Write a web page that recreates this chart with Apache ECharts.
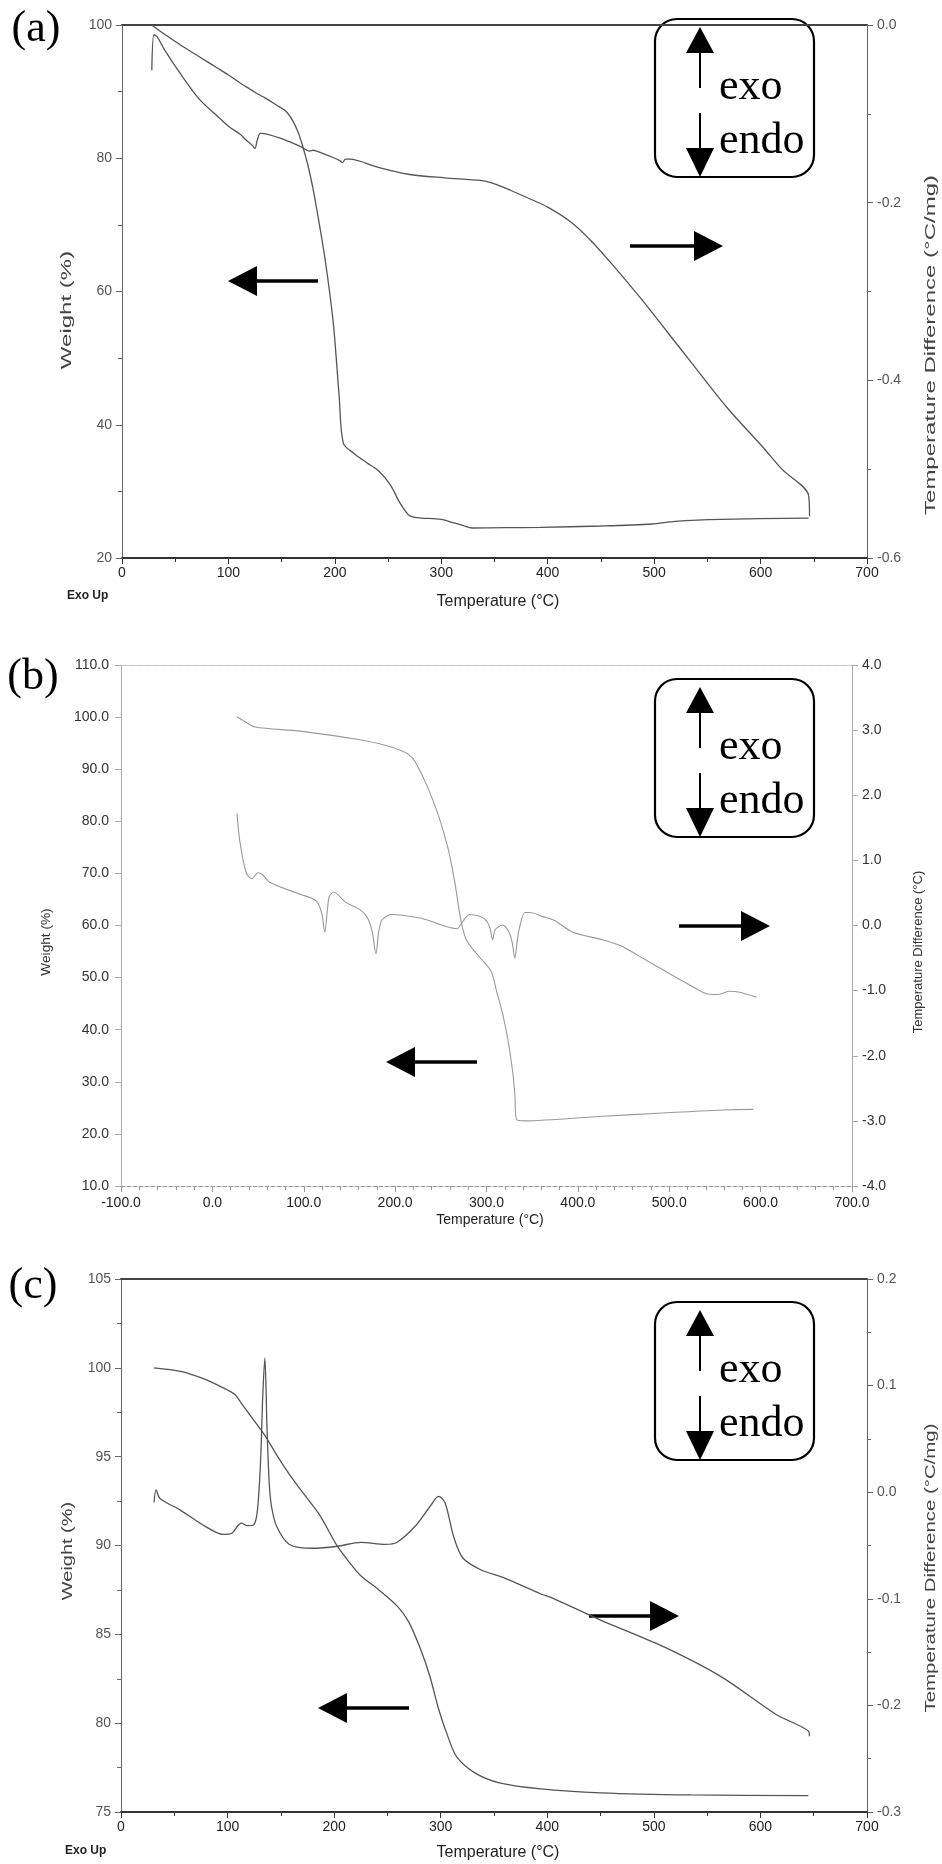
<!DOCTYPE html>
<html>
<head>
<meta charset="utf-8">
<script src="https://cdn.jsdelivr.net/npm/echarts@6.0.0/dist/echarts.min.js"></script>
<style>
html,body{margin:0;padding:0;background:#fff;}
#chart{width:942px;height:1864px;}
</style>
</head>
<body>
<div id="chart"></div>
<script>
// ---------------- DATA ----------------
// Panel (a)
const aTgaT = [28,40,55,73,90,100,111,120,125,128,134,145,155,165,173,179,185,190,195,199,204,208,218,230,241,252,261,269,275,281,300,309,320,329,360,393,450,498,520,563,645];
const aTgaW = [100,98.6,97.0,95.2,93.5,92.5,91.3,90.4,89.9,89.6,89.1,88.0,86.9,84.1,80.0,75.8,70.5,65.7,60.0,54.5,44.4,37.2,35.7,34.3,33.1,31.0,28.3,26.5,26.1,26.0,25.8,25.4,24.9,24.5,24.55,24.6,24.8,25.1,25.5,25.8,26.0];
const aDscT = [28,30,33,40,55,73,90,100,111,117,122,125,127,130,137,150,168,176,180,183,200,205,207,210,214,240,269,303,337,348,365,382,400,422,440,461,489,512,535,568,602,620,645,646];
const aDscV = [-0.051,-0.011,-0.013,-0.028,-0.055,-0.084,-0.103,-0.114,-0.123,-0.130,-0.135,-0.139,-0.130,-0.122,-0.123,-0.128,-0.137,-0.142,-0.141,-0.142,-0.150,-0.153,-0.155,-0.151,-0.151,-0.160,-0.168,-0.172,-0.175,-0.178,-0.186,-0.195,-0.205,-0.222,-0.242,-0.270,-0.310,-0.345,-0.380,-0.430,-0.475,-0.500,-0.529,-0.553];
// Panel (b)
const bTgaT = [27,35,47,96,163,189,205,215,222,235,248,258,265,272,278,291,305,311,318,324,329,331,333,341,427,493,559,592];
const bTgaW = [100,99.2,98.1,97.3,95.6,94.6,93.7,92.8,91.4,86.8,80.8,74.7,68.6,61.0,57.2,54.2,51.2,47.4,42.8,37.5,31.4,27.6,22.7,22.5,23.4,24.0,24.6,24.7];
const bDscT = [27,30,37,43.5,50,55,63,96,113,119.5,123,126,128,133,146,162.5,170,175,179,182,185.6,195.5,228.6,268,272,275,281.5,294.7,301,304,306.6,309,311,318,324.5,328,331,333.5,336,342,347.6,361,374,394,427,447,467,493,519.5,539,552.6,565.8,575.7,595.6];
const bDscV = [1.72,1.30,0.81,0.72,0.81,0.78,0.66,0.48,0.385,0.20,-0.10,0.25,0.45,0.51,0.355,0.233,0.11,-0.10,-0.435,-0.10,0.08,0.17,0.11,-0.05,0.02,0.08,0.17,0.13,0.05,-0.05,-0.22,-0.08,-0.04,0.008,-0.10,-0.25,-0.50,-0.25,-0.04,0.20,0.20,0.14,0.08,-0.10,-0.22,-0.31,-0.47,-0.68,-0.89,-1.04,-1.06,-1.01,-1.02,-1.10];
// Panel (c)
const cTgaT = [31,56,79,100,107,113,124,135,146,158,169,186,203,215,225,242,259,270,281.5,290,298,307,315,332,355,394,450,535,645];
const cTgaW = [100.0,99.8,99.35,98.75,98.5,98.0,97.1,96.2,95.1,94.0,93.1,91.75,89.96,89.0,88.3,87.5,86.6,85.7,84.1,82.6,80.8,79.2,78.1,77.2,76.64,76.3,76.08,75.96,75.92];
const cDscT = [31,33,36.6,56,79,96,104,110,113,118,124,128,131,133,135,137,139,141,146,158,180,203,225,248,259,276,290,298,304,312.5,321,338,360,394,405,450,507,563,614,645,646];
const cDscV = [-0.0097,0.0022,-0.006,-0.017,-0.032,-0.0396,-0.0385,-0.031,-0.029,-0.0313,-0.031,-0.017,0.03,0.09,0.126,0.06,0.01,-0.012,-0.032,-0.049,-0.0526,-0.0507,-0.047,-0.049,-0.047,-0.032,-0.0134,-0.004,-0.0097,-0.043,-0.062,-0.073,-0.0806,-0.0955,-0.0993,-0.120,-0.144,-0.173,-0.208,-0.224,-0.229];

// Axis ranges / ticks
const aX = {min:0, max:700, interval:100};
const aYL = {min:20, max:100, interval:20};
const aYR = {min:-0.6, max:0, interval:0.2};
const bX = {min:-100, max:700, interval:100};
const bYL = {min:10, max:110, interval:10};
const bYR = {min:-4, max:4, interval:1};
const cX = {min:0, max:700, interval:100};
const cYL = {min:75, max:105, interval:5};
const cYR = {min:-0.3, max:0.2, interval:0.1};

// Texts
const panelLabels = ['(a)','(b)','(c)'];
const weightTitle = 'Weight (%)';
const tempTitle = 'Temperature (°C)';
const diffTitleMg = 'Temperature Difference (°C/mg)';
const diffTitle = 'Temperature Difference (°C)';
const exoUp = 'Exo Up';

// ---------------- CHART ----------------
const FONT = "'Liberation Sans', Arial, sans-serif";
const SERIF = "'Liberation Serif', 'Times New Roman', serif";
const pts = (xs, ys) => xs.map((x, i) => [x, ys[i]]);
const f0 = v => String(Math.round(v));
const f1 = v => (Math.abs(v) < 1e-9 ? 0 : v).toFixed(1);

function xAx(gi, r, fmt, st) {
  return {
    type:'value', gridIndex:gi, position:'bottom', min:r.min, max:r.max, interval:r.interval,
    axisLine:{show:true, onZero:false, lineStyle:{color:st.line, width:st.w, type:st.type||'solid'}},
    axisTick:{show:true, length:6, lineStyle:{color:st.line, width:1}},
    minorTick:{show:true, splitNumber:st.minor, length:4, lineStyle:{color:st.line, width:1}},
    axisLabel:{fontFamily:FONT, fontSize:st.fs, color:st.label, margin:st.margin, formatter:fmt},
    splitLine:{show:false}
  };
}
function xTop(gi, r, st) {
  return {
    type:'value', gridIndex:gi, position:'top', min:r.min, max:r.max,
    axisLine:{show:true, onZero:false, lineStyle:{color:st.line, width:st.w, type:st.type||'solid'}},
    axisTick:{show:false}, axisLabel:{show:false}, splitLine:{show:false}
  };
}
function yAx(gi, pos, r, fmt, st) {
  return {
    type:'value', gridIndex:gi, position:pos, min:r.min, max:r.max, interval:r.interval,
    axisLine:{show:true, onZero:false, lineStyle:{color:st.line, width:st.w, type:st.type||'solid'}},
    axisTick:{show:true, length:6, lineStyle:{color:st.line, width:1}},
    minorTick:{show:st.minor>0, splitNumber:st.minor||2, length:4, lineStyle:{color:st.line, width:1}},
    axisLabel:{fontFamily:FONT, fontSize:st.fs, color:st.label, margin:st.margin, formatter:fmt},
    splitLine:{show:false}
  };
}
function line(xi, yi, data, color, width) {
  return {
    type:'line', xAxisIndex:xi, yAxisIndex:yi, data:data, symbol:'none', showSymbol:false,
    smooth:0.3, silent:true,
    lineStyle:{color:color, width:width}
  };
}

// graphics helpers
function arrowRight(x1, x2, y) {
  return [
    {type:'rect', shape:{x:x1, y:y-1.8, width:x2-29-x1, height:3.6}, style:{fill:'#000'}},
    {type:'polygon', shape:{points:[[x2-29, y-15],[x2, y],[x2-29, y+15]]}, style:{fill:'#000'}}
  ];
}
function arrowLeft(x1, x2, y) {
  return [
    {type:'rect', shape:{x:x1+29, y:y-1.8, width:x2-x1-29, height:3.6}, style:{fill:'#000'}},
    {type:'polygon', shape:{points:[[x1+29, y-15],[x1, y],[x1+29, y+15]]}, style:{fill:'#000'}}
  ];
}
function exoBox(top) {
  const L = 655, W = 159, H = 158, ax = 700;
  return [
    {type:'rect', shape:{x:L, y:top, width:W, height:H, r:22}, style:{fill:'#fff', stroke:'#000', lineWidth:2.2}},
    {type:'polygon', shape:{points:[[ax, top+8],[ax-14, top+34],[ax+14, top+34]]}, style:{fill:'#000'}},
    {type:'line', shape:{x1:ax, y1:top+34, x2:ax, y2:top+69}, style:{stroke:'#000', lineWidth:2}},
    {type:'line', shape:{x1:ax, y1:top+94, x2:ax, y2:top+130}, style:{stroke:'#000', lineWidth:2}},
    {type:'polygon', shape:{points:[[ax-14, top+129],[ax+14, top+129],[ax, top+H]]}, style:{fill:'#000'}},
    {type:'text', x:719, y:top+68, style:{text:'exo', font:'44px '+SERIF, fill:'#000', align:'left', verticalAlign:'middle'}},
    {type:'text', x:719, y:top+122, style:{text:'endo', font:'44px '+SERIF, fill:'#000', align:'left', verticalAlign:'middle'}}
  ];
}
function vText(x, y, text, size, sc, color) {
  return {type:'text', x:x, y:y, rotation:Math.PI/2, scaleX:sc,
    style:{text:text, font:size+'px '+FONT, fill:color, align:'center', verticalAlign:'middle'}};
}
function hText(x, y, text, font, color, align) {
  return {type:'text', x:x, y:y, style:{text:text, font:font, fill:color, align:align||'center', verticalAlign:'middle'}};
}

const stA = {
  bottom:{line:'#333', w:2, minor:2, fs:14, label:'#222', margin:8},
  top:{line:'#444', w:2},
  left:{line:'#666', w:1, minor:2, fs:14, label:'#555', margin:10},
  right:{line:'#666', w:1, minor:2, fs:14, label:'#555', margin:10}
};
const stB = {
  bottom:{line:'#999', w:1, type:'dashed', minor:5, fs:14, label:'#222', margin:10},
  top:{line:'#bbb', w:1, type:'dotted'},
  left:{line:'#aaa', w:1, minor:0, fs:14, label:'#333', margin:12},
  right:{line:'#aaa', w:1, minor:0, fs:14, label:'#333', margin:10}
};

const graphics = [].concat(
  [hText(36, 29, panelLabels[0], '44px '+SERIF, '#000'),
   hText(33, 677, panelLabels[1], '44px '+SERIF, '#000'),
   hText(33, 1286, panelLabels[2], '44px '+SERIF, '#000')],
  [vText(67, 310, weightTitle, 15, 1.6, '#444'),
   vText(931, 345, diffTitleMg, 15, 1.6, '#444'),
   hText(498, 602, tempTitle, '16px '+FONT, '#222'),
   hText(67, 596, exoUp, 'bold 12px '+FONT, '#222', 'left')],
  [vText(46, 942, weightTitle, 13, 1.05, '#333'),
   vText(918, 952, diffTitle, 13, 1.0, '#333'),
   hText(490, 1220, tempTitle, '14px '+FONT, '#222')],
  [vText(68, 1551, weightTitle, 15, 1.33, '#444'),
   vText(931, 1568, diffTitleMg, 15, 1.36, '#444'),
   hText(498, 1853, tempTitle, '16px '+FONT, '#222'),
   hText(65, 1851, exoUp, 'bold 12px '+FONT, '#222', 'left')],
  exoBox(19), exoBox(679), exoBox(1302),
  arrowRight(630, 723, 246), arrowLeft(228, 318, 281),
  arrowRight(679, 770, 926), arrowLeft(386, 477, 1062),
  arrowRight(589, 679, 1616), arrowLeft(318, 409, 1708)
);

const option = {
  animation:false,
  backgroundColor:'#ffffff',
  grid:[
    {left:122, top:25, width:745, height:533},
    {left:121, top:665, width:731, height:521},
    {left:121, top:1279, width:746, height:533}
  ],
  xAxis:[
    xAx(0, aX, f0, stA.bottom), xTop(0, aX, stA.top),
    xAx(1, bX, f1, stB.bottom), xTop(1, bX, stB.top),
    xAx(2, cX, f0, stA.bottom), xTop(2, cX, stA.top)
  ],
  yAxis:[
    yAx(0, 'left', aYL, f0, stA.left), yAx(0, 'right', aYR, f1, stA.right),
    yAx(1, 'left', bYL, f1, stB.left), yAx(1, 'right', bYR, f1, stB.right),
    yAx(2, 'left', cYL, f0, stA.left), yAx(2, 'right', cYR, f1, stA.right)
  ],
  series:[
    line(0, 0, pts(aTgaT, aTgaW), '#555', 1.3),
    line(0, 1, pts(aDscT, aDscV), '#555', 1.3),
    line(2, 2, pts(bTgaT, bTgaW), '#999', 1.1),
    line(2, 3, pts(bDscT, bDscV), '#999', 1.1),
    line(4, 4, pts(cTgaT, cTgaW), '#555', 1.3),
    line(4, 5, pts(cDscT, cDscV), '#555', 1.3)
  ],
  graphic:{elements:graphics}
};

const chart = echarts.init(document.getElementById('chart'), null, {renderer:'canvas'});
chart.setOption(option);
</script>
</body>
</html>
